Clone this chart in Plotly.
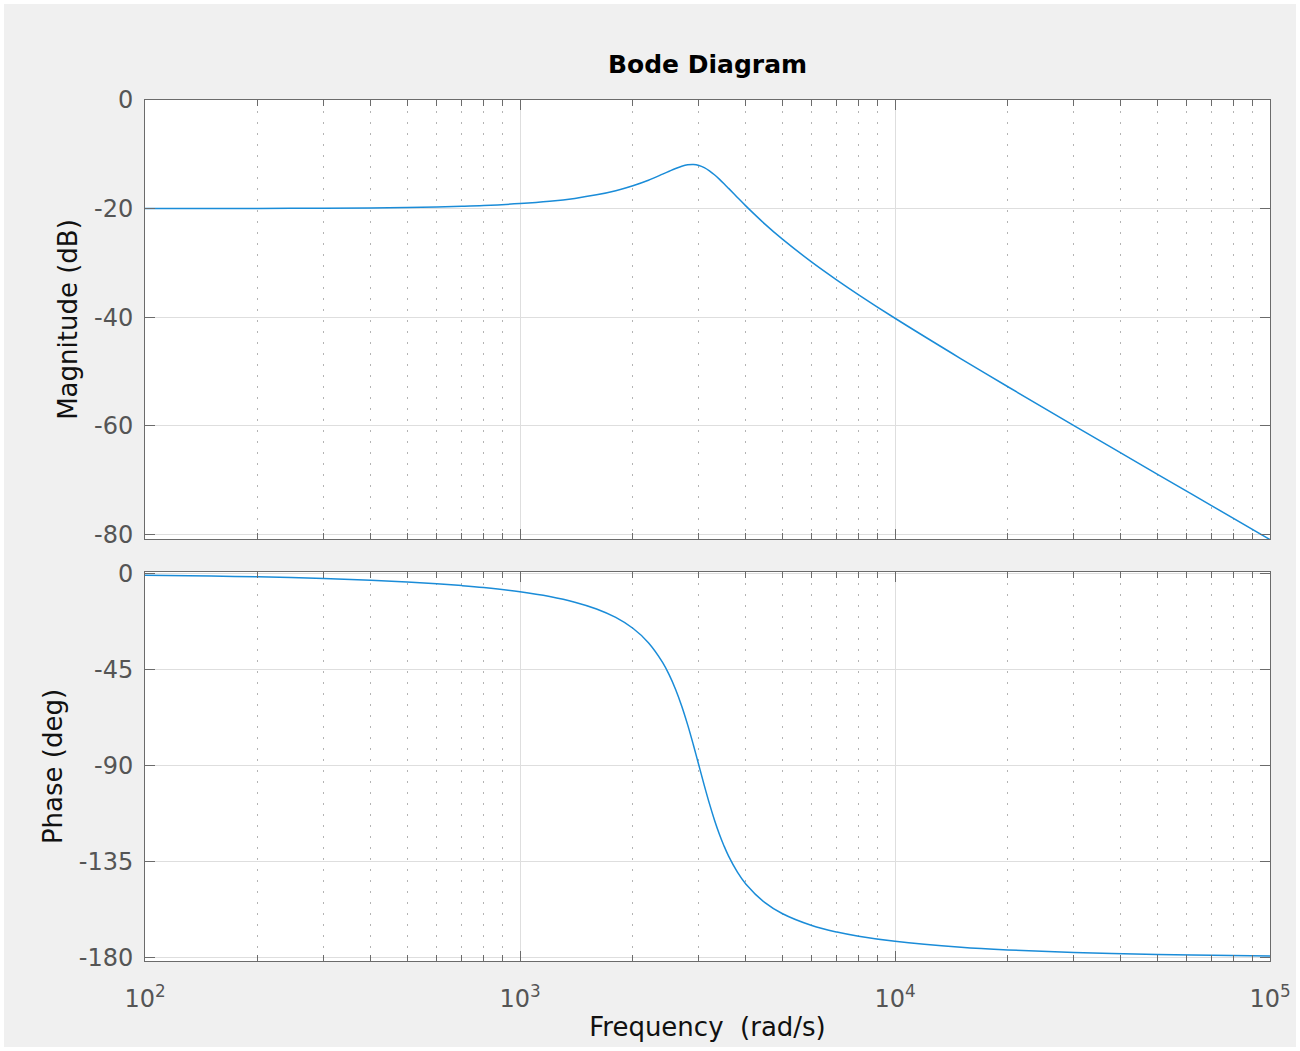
import plotly.graph_objects as go

# Frequencies (rad/s)
freq = [100, 150, 200, 300, 400, 500, 600, 700, 800, 1000, 1200, 1400, 1600, 1800,
        2000, 2200, 2400, 2500, 2600, 2700, 2800, 2900, 3000, 3100, 3200, 3300, 3400,
        3500, 3600, 3800, 4000, 4500, 5000, 6000, 7000, 8000, 10000, 15000, 20000,
        30000, 50000, 70000, 100000]

# Magnitude (dB)
magnitude_db = [-19.99, -19.98, -19.96, -19.92, -19.86, -19.78, -19.68, -19.56, -19.42,
                -19.07, -18.64, -18.11, -17.46, -16.70, -15.79, -14.77, -13.65, -13.11,
                -12.60, -12.19, -11.93, -11.87, -12.04, -12.44, -13.03, -13.76, -14.57,
                -15.42, -16.27, -17.94, -19.49, -22.84, -25.57, -29.84, -33.14, -35.85,
                -40.17, -47.63, -52.78, -59.92, -68.85, -74.70, -80.91]

# Phase (deg)
phase_deg = [-0.76, -1.15, -1.53, -2.31, -3.11, -3.92, -4.76, -5.64, -6.55, -8.53,
             -10.78, -13.42, -16.60, -20.56, -25.64, -32.40, -41.63, -47.49, -54.32,
             -62.18, -70.95, -80.38, -90.00, -99.31, -107.90, -115.52, -122.10, -127.73,
             -132.51, -140.03, -145.56, -154.36, -159.44, -165.07, -168.14, -170.10,
             -172.49, -175.24, -176.49, -177.69, -178.62, -179.02, -179.31]

x_tick_vals = [100, 1000, 10000, 100000]
x_tick_text = ["10<sup>2</sup>", "10<sup>3</sup>", "10<sup>4</sup>", "10<sup>5</sup>"]
x_minor_vals = [m * 10 ** e for e in (2, 3, 4) for m in range(2, 10)]

mag_ticks = [-80, -60, -40, -20, 0]
mag_tick_text = ["-80", "-60", "-40", "-20", "0"]
phase_ticks = [-180, -135, -90, -45, 0]
phase_tick_text = ["-180", "-135", "-90", "-45", "0"]

LINE = "#1a8cd8"
FRAME = "#6b6b6b"
GRID = "#dedede"
MINOR_GRID = "#b4b4b4"
TICKFONT = dict(family="DejaVu Sans", size=24, color="#555555")
LABELFONT = dict(family="DejaVu Sans", size=26, color="#111111")

L, R, T, B = 145, 30, 100, 90
PW, PH = 1300 - L - R, 1051 - T - B

fig = go.Figure()
fig.add_trace(go.Scatter(x=freq, y=magnitude_db, mode="lines", line=dict(color=LINE, width=1.5, shape="spline"),
                         xaxis="x2", yaxis="y2", showlegend=False))
fig.add_trace(go.Scatter(x=freq, y=phase_deg, mode="lines", line=dict(color=LINE, width=1.5, shape="spline"),
                         xaxis="x", yaxis="y", showlegend=False))

common_x = dict(
    type="log", range=[2, 5], showline=True, linecolor=FRAME, linewidth=1, mirror="allticks",
    ticks="inside", ticklen=10, tickcolor=FRAME, showgrid=True, gridcolor=GRID, gridwidth=1,
    tickvals=x_tick_vals, zeroline=False, automargin=False,
    minor=dict(tickvals=x_minor_vals, ticks="inside", ticklen=6, tickcolor=FRAME,
               showgrid=True, gridcolor=MINOR_GRID, griddash="2px,9px", gridwidth=1),
)
common_y = dict(
    showline=True, linecolor=FRAME, linewidth=1, mirror="allticks", ticks="inside", ticklen=10,
    tickcolor=FRAME, showgrid=True, gridcolor=GRID, gridwidth=1, zeroline=False,
    tickfont=TICKFONT, ticklabelstandoff=6, automargin=False,
)

fig.update_layout(
    width=1300, height=1051,
    margin=dict(l=L, r=R, t=T, b=B, autoexpand=False),
    paper_bgcolor="#f0f0f0", plot_bgcolor="white",
    title=dict(text="<b>Bode Diagram</b>", x=(L + PW / 2) / 1300, xanchor="center",
               y=1 - 64 / 1051, yanchor="middle", yref="container",
               font=dict(family="DejaVu Sans", size=25, color="#000000")),
    xaxis=dict(common_x, anchor="y", domain=[0, 1], ticktext=x_tick_text, tickfont=TICKFONT,
               ticklabelstandoff=16,
               title=dict(text="Frequency\u00a0 (rad/s)", font=LABELFONT, standoff=6)),
    xaxis2=dict(common_x, anchor="y2", matches="x", showticklabels=False),
    yaxis=dict(common_y, domain=[0, (961 - 572) / PH], range=[-181.7, 0.75],
               tickvals=phase_ticks, ticktext=phase_tick_text,
               title=dict(text="Phase (deg)", font=LABELFONT, standoff=8)),
    yaxis2=dict(common_y, domain=[(961 - 539) / PH, 1], range=[-80.8, 0],
                tickvals=mag_ticks, ticktext=mag_tick_text,
                title=dict(text="Magnitude (dB)", font=LABELFONT, standoff=8)),
    shapes=[dict(type="rect", xref="paper", yref="paper", x0=-L / PW, x1=(1300 - L) / PW,
                 y0=-B / PH, y1=(1051 - B) / PH, line=dict(color="white", width=8),
                 fillcolor="rgba(0,0,0,0)", layer="above")],
)

fig.write_html("out.html", config={"displayModeBar": False},
               post_script="document.body.style.margin='0';document.body.style.overflow='hidden';")
